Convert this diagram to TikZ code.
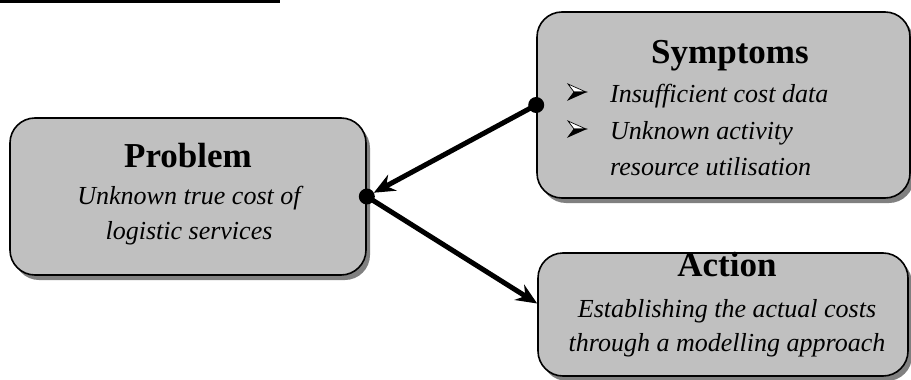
\documentclass[tikz,border=0pt]{standalone}
\usepackage{fontspec}
\setmainfont{Liberation Serif}
\usetikzlibrary{shadows,arrows.meta}

\definecolor{boxfill}{HTML}{C0C0C0}
\definecolor{boxshadow}{HTML}{808080}

\tikzset{
  card/.style={draw=black, line width=1.6pt, fill=boxfill, rounded corners=25pt,
    inner sep=0pt,
    drop shadow={shadow xshift=4pt, shadow yshift=-5pt, fill=boxshadow, opacity=1}},
  headtext/.style={inner sep=0pt, anchor=base,
    font=\fontsize{35}{40}\selectfont\bfseries},
  bodytext/.style={inner sep=0pt, anchor=base,
    font=\fontsize{26}{30}\selectfont\itshape},
  itemtext/.style={bodytext, anchor=base west},
  link/.style={line width=5pt, -{Stealth[length=21pt,width=18pt,inset=7pt]}},
  joint/.style={fill=black},
  arrowbullet/.pic={
    \filldraw[fill=white, line width=0.7pt, line join=miter]
      (-9,-8) -- (9,0) -- (-3,0) -- cycle;
    \filldraw[line width=0.7pt, line join=miter]
      (-9,8) -- (9,0) -- (-3,0) -- cycle;
  }
}

\begin{document}
\begin{tikzpicture}[x=1pt,y=-1pt]
  \clip (0,0) rectangle (911,380);

  % rule along the top edge
  \fill (0,0) rectangle (280,2.7);

  % the three cards
  \node[card, minimum width=356pt, minimum height=157pt] (prob) at (188,196.5) {};
  \node[card, minimum width=373pt, minimum height=186pt] (symp) at (723.5,105) {};
  \node[card, minimum width=370pt, minimum height=123pt] (act)  at (723,314.5) {};

  % Problem
  \node[headtext] (ptitle) at (188,167) {Problem};
  \node[bodytext] (pline1) at (189,204) {Unknown true cost of};
  \node[bodytext] (pline2) at (189,239) {logistic services};

  % Symptoms
  \node[headtext] (stitle) at (730,63) {Symptoms};
  \pic at (577,92) {arrowbullet};
  \node[itemtext] (sitem1) at (610,102) {Insufficient cost data};
  \pic at (577,129) {arrowbullet};
  \node[itemtext] (sitem2) at (610,139) {Unknown activity};
  \node[itemtext] (sitem3) at (610,175) {resource utilisation};

  % Action
  \node[headtext] (atitle) at (727,276) {Action};
  \node[bodytext] (aline1) at (727,317) {Establishing the actual costs};
  \node[bodytext] (aline2) at (727,351) {through a modelling approach};

  % connectors
  \coordinate (actin) at ([yshift=11pt]act.west);
  \draw[link, shorten >=8pt] (symp.west) -- (prob.east);
  \draw[link] (prob.east) -- (actin);
  \fill[joint] (prob.east) circle (8);
  \fill[joint] (symp.west) circle (8);
\end{tikzpicture}
\end{document}
